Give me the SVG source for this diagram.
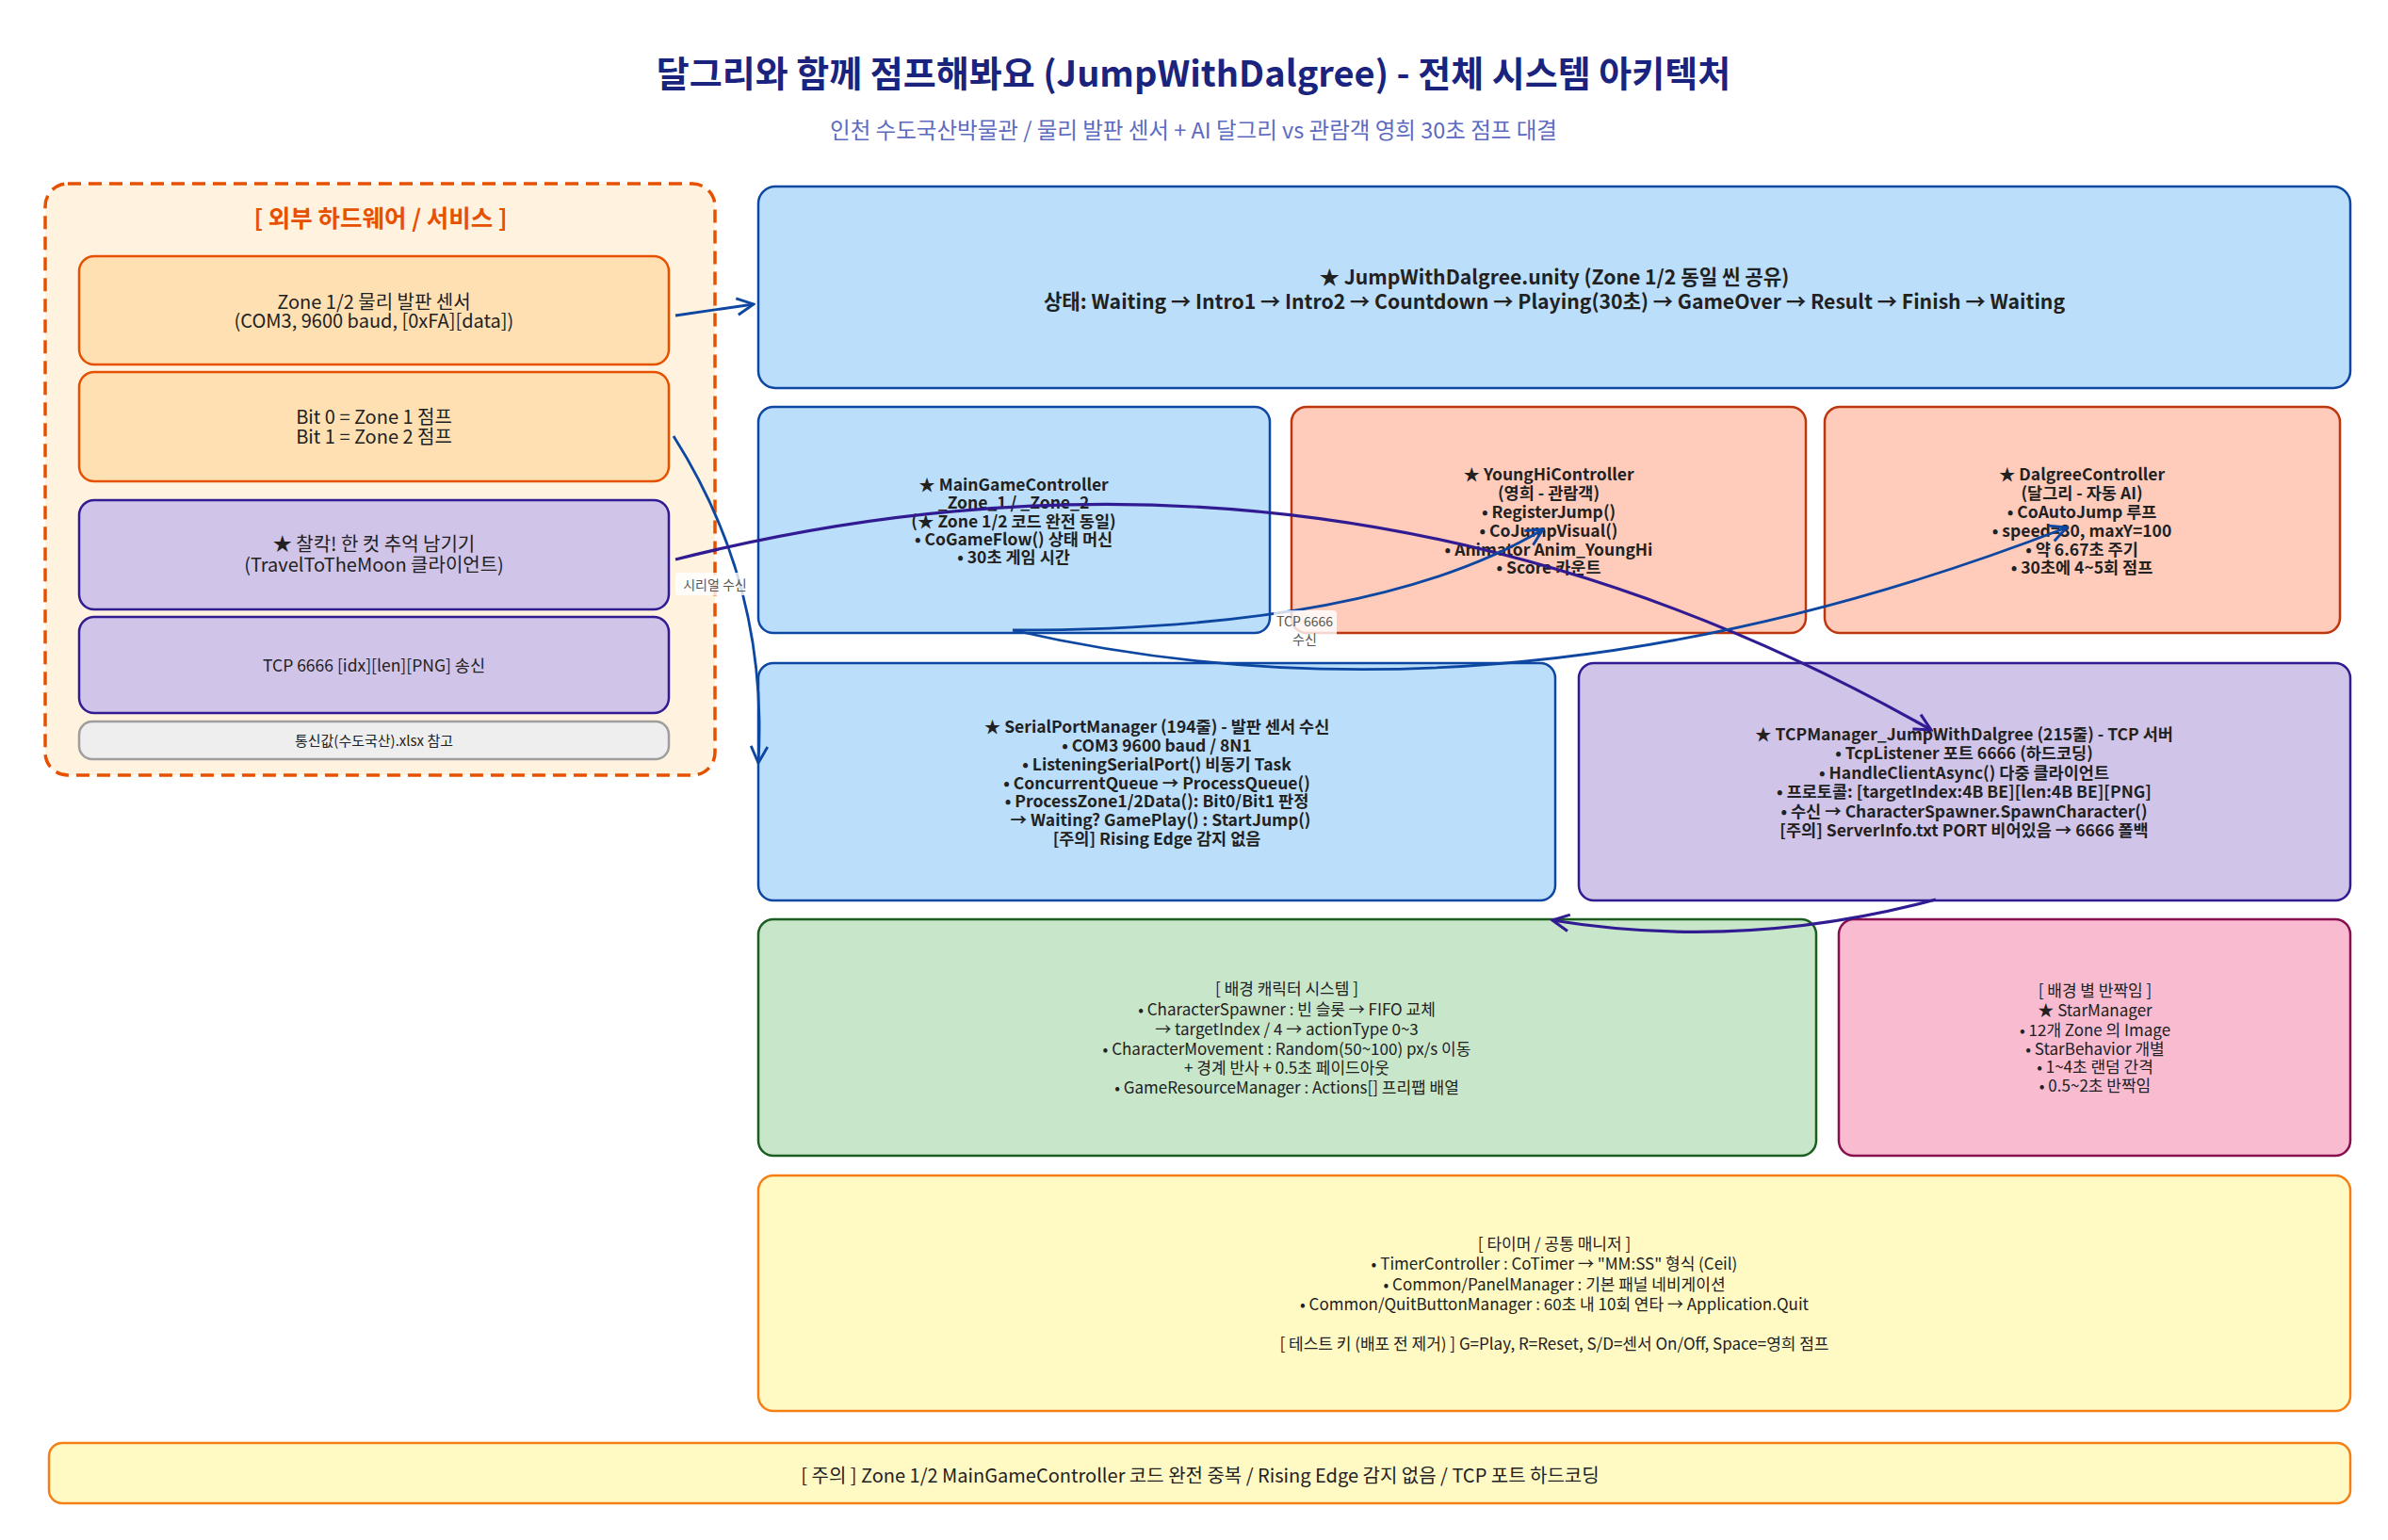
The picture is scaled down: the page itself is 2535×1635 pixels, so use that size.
<svg xmlns="http://www.w3.org/2000/svg" width="2535" height="1635" viewBox="0 0 2535 1635">
<defs>
<style>
text{font-family:"Noto Sans CJK KR","Noto Sans",sans-serif;text-anchor:middle;dominant-baseline:central;fill:#212121}
.b{font-weight:bold}
.bb{font-weight:bold;font-size:17.5px}
.r17{font-size:17px}
.l20{font-size:20px}
.box{stroke-width:2.5}
.blue{fill:#BBDEFB;stroke:#0D47A1}
.orange{fill:#FFE0B2;stroke:#E65100}
.purple{fill:#D1C4E9;stroke:#311B92}
.red{fill:#FFCCBC;stroke:#BF360C}
.green{fill:#C8E6C9;stroke:#1B5E20}
.pink{fill:#F8BBD0;stroke:#880E4F}
.yellow{fill:#FFF9C4;stroke:#F57F17}
.gray{fill:#EEEEEE;stroke:#9E9E9E}
.cb{fill:none;stroke:#0D47A1;stroke-width:2.8}
.cp{fill:none;stroke:#311B92;stroke-width:3.2}
.lbl{font-size:14px;fill:#555555}
</style>
<marker id="ab" viewBox="0 0 20 20" refX="18" refY="10" markerWidth="22" markerHeight="22" markerUnits="userSpaceOnUse" orient="auto">
<path d="M2,2 L18,10 L2,18" fill="none" stroke="#0D47A1" stroke-width="2.6"/>
</marker>
<marker id="ap" viewBox="0 0 20 20" refX="18" refY="10" markerWidth="22" markerHeight="22" markerUnits="userSpaceOnUse" orient="auto">
<path d="M2,2 L18,10 L2,18" fill="none" stroke="#311B92" stroke-width="2.8"/>
</marker>
</defs>
<rect width="2535" height="1635" fill="#ffffff"/>

<g id="title">
<text x="1267" y="75" class="b" style="font-size:38px;fill:#1A237E">달그리와 함께 점프해봐요 (JumpWithDalgree) - 전체 시스템 아키텍처</text>
<text x="1267" y="137" style="font-size:23.5px;fill:#5C6BC0">인천 수도국산박물관 / 물리 발판 센서 + AI 달그리 vs 관람객 영희 30초 점프 대결</text>
</g>

<g id="external">
<rect x="48" y="195" width="711" height="628" rx="24" fill="#FFF3E0" stroke="#E65100" stroke-width="3.5" stroke-dasharray="14,8"/>
<text x="404" y="229" class="b" style="font-size:25.5px;fill:#E65100">[ 외부 하드웨어 / 서비스 ]</text>
</g>

<g id="sensor">
<rect x="84" y="272" width="626" height="115" rx="16" class="box orange"/>
<text class="l20"><tspan x="397" y="319">Zone 1/2 물리 발판 센서</tspan><tspan x="397" y="339">(COM3, 9600 baud, [0xFA][data])</tspan></text>
</g>
<g id="bits">
<rect x="84" y="395" width="626" height="116" rx="16" class="box orange"/>
<text class="l20"><tspan x="397" y="441">Bit 0 = Zone 1 점프</tspan><tspan x="397" y="462">Bit 1 = Zone 2 점프</tspan></text>
</g>
<g id="travel">
<rect x="84" y="531" width="626" height="116" rx="16" class="box purple"/>
<text class="l20"><tspan x="397" y="576">★ 찰칵! 한 컷 추억 남기기</tspan><tspan x="397" y="598">(TravelToTheMoon 클라이언트)</tspan></text>
</g>
<g id="tcpsend">
<rect x="84" y="655" width="626" height="102" rx="16" class="box purple"/>
<text x="397" y="705" style="font-size:17.5px">TCP 6666 [idx][len][PNG] 송신</text>
</g>
<g id="xlsx">
<rect x="84" y="766" width="626" height="40" rx="14" class="box gray"/>
<text x="397" y="785" style="font-size:15px">통신값(수도국산).xlsx 참고</text>
</g>

<g id="scene">
<rect x="805" y="198" width="1690" height="214" rx="18" class="box blue"/>
<text class="b" style="font-size:21.2px"><tspan x="1650" y="292">★ JumpWithDalgree.unity (Zone 1/2 동일 씬 공유)</tspan><tspan x="1650" y="318">상태: Waiting → Intro1 → Intro2 → Countdown → Playing(30초) → GameOver → Result → Finish → Waiting</tspan></text>
</g>

<g id="maingame">
<rect x="805" y="432" width="543" height="240" rx="16" class="box blue"/>
<text class="bb"><tspan x="1076" y="513">★ MainGameController</tspan><tspan x="1076" y="532">_Zone_1 / _Zone_2</tspan><tspan x="1076" y="552">(★ Zone 1/2 코드 완전 동일)</tspan><tspan x="1076" y="571">• CoGameFlow() 상태 머신</tspan><tspan x="1076" y="590">• 30초 게임 시간</tspan></text>
</g>

<g id="younghi">
<rect x="1371" y="432" width="546" height="240" rx="16" class="box red"/>
<text class="bb"><tspan x="1644" y="502">★ YoungHiController</tspan><tspan x="1644" y="522">(영희 - 관람객)</tspan><tspan x="1644" y="542">• RegisterJump()</tspan><tspan x="1644" y="562">• CoJumpVisual()</tspan><tspan x="1644" y="582">• Animator Anim_YoungHi</tspan><tspan x="1644" y="601">• Score 카운트</tspan></text>
</g>

<g id="dalgree">
<rect x="1937" y="432" width="547" height="240" rx="16" class="box red"/>
<text class="bb"><tspan x="2210" y="502">★ DalgreeController</tspan><tspan x="2210" y="522">(달그리 - 자동 AI)</tspan><tspan x="2210" y="542">• CoAutoJump 루프</tspan><tspan x="2210" y="562">• speed=30, maxY=100</tspan><tspan x="2210" y="582">• 약 6.67초 주기</tspan><tspan x="2210" y="601">• 30초에 4~5회 점프</tspan></text>
</g>

<g id="serial">
<rect x="805" y="704" width="846" height="252" rx="16" class="box blue"/>
<text class="bb"><tspan x="1228" y="770">★ SerialPortManager (194줄) - 발판 센서 수신</tspan><tspan x="1228" y="790">• COM3 9600 baud / 8N1</tspan><tspan x="1228" y="810">• ListeningSerialPort() 비동기 Task</tspan><tspan x="1228" y="830">• ConcurrentQueue → ProcessQueue()</tspan><tspan x="1228" y="849">• ProcessZone1/2Data(): Bit0/Bit1 판정</tspan><tspan x="1232" y="869">→ Waiting? GamePlay() : StartJump()</tspan><tspan x="1228" y="889">[주의] Rising Edge 감지 없음</tspan></text>
</g>

<g id="tcpmanager">
<rect x="1676" y="704" width="819" height="252" rx="16" class="box purple"/>
<text class="bb"><tspan x="2085" y="778">★ TCPManager_JumpWithDalgree (215줄) - TCP 서버</tspan><tspan x="2085" y="798">• TcpListener 포트 6666 (하드코딩)</tspan><tspan x="2085" y="819">• HandleClientAsync() 다중 클라이언트</tspan><tspan x="2085" y="839">• 프로토콜: [targetIndex:4B BE][len:4B BE][PNG]</tspan><tspan x="2085" y="860">• 수신 → CharacterSpawner.SpawnCharacter()</tspan><tspan x="2085" y="880">[주의] ServerInfo.txt PORT 비어있음 → 6666 폴백</tspan></text>
</g>

<g id="characters">
<rect x="805" y="976" width="1123" height="251" rx="16" class="box green"/>
<text class="r17"><tspan x="1366" y="1048">[ 배경 캐릭터 시스템 ]</tspan><tspan x="1366" y="1070">• CharacterSpawner : 빈 슬롯 → FIFO 교체</tspan><tspan x="1366" y="1091">→ targetIndex / 4 → actionType 0~3</tspan><tspan x="1366" y="1112">• CharacterMovement : Random(50~100) px/s 이동</tspan><tspan x="1366" y="1132">+ 경계 반사 + 0.5초 페이드아웃</tspan><tspan x="1366" y="1153">• GameResourceManager : Actions[] 프리팹 배열</tspan></text>
</g>

<g id="stars">
<rect x="1952" y="976" width="543" height="251" rx="16" class="box pink"/>
<text class="r17"><tspan x="2224" y="1050">[ 배경 별 반짝임 ]</tspan><tspan x="2224" y="1071">★ StarManager</tspan><tspan x="2224" y="1092">• 12개 Zone 의 Image</tspan><tspan x="2224" y="1112">• StarBehavior 개별</tspan><tspan x="2224" y="1131">• 1~4초 랜덤 간격</tspan><tspan x="2224" y="1151">• 0.5~2초 반짝임</tspan></text>
</g>

<g id="timer">
<rect x="805" y="1248" width="1690" height="250" rx="16" class="box yellow"/>
<text class="r17"><tspan x="1650" y="1319">[ 타이머 / 공통 매니저 ]</tspan><tspan x="1650" y="1340">• TimerController : CoTimer → "MM:SS" 형식 (Ceil)</tspan><tspan x="1650" y="1362">• Common/PanelManager : 기본 패널 네비게이션</tspan><tspan x="1650" y="1383">• Common/QuitButtonManager : 60초 내 10회 연타 → Application.Quit</tspan><tspan x="1650" y="1425">[ 테스트 키 (배포 전 제거) ] G=Play, R=Reset, S/D=센서 On/Off, Space=영희 점프</tspan></text>
</g>

<g id="note">
<rect x="52" y="1532" width="2443" height="64" rx="14" class="box yellow"/>
<text x="1274" y="1565" style="font-size:20px">[ 주의 ] Zone 1/2 MainGameController 코드 완전 중복 / Rising Edge 감지 없음 / TCP 포트 하드코딩</text>
</g>

<g id="connectors">
<path d="M717,335 L800,323" class="cb" marker-end="url(#ab)"/>
<path d="M715,463 Q816,622 805,810" class="cb" marker-end="url(#ab)"/>
<rect x="717" y="608" width="84" height="24" rx="4" fill="#ffffff" fill-opacity="0.8"/>
<text x="759" y="620" class="lbl">시리얼 수신</text>
<path d="M717,594 Q1420,417 2050,775" class="cp" marker-end="url(#ap)"/>
<path d="M1075,669 Q1460,669 1638,562" class="cb" marker-end="url(#ab)"/>
<rect x="1352" y="648" width="67" height="40" rx="4" fill="#ffffff" fill-opacity="0.8"/>
<text class="lbl"><tspan x="1385" y="659">TCP 6666</tspan><tspan x="1385" y="678">수신</tspan></text>
<path d="M1075,669 Q1600,790 2194,560" class="cb" marker-end="url(#ab)"/>
<path d="M2055,955 Q1850,1010 1648,977" class="cp" marker-end="url(#ap)"/>
</g>
</svg>
